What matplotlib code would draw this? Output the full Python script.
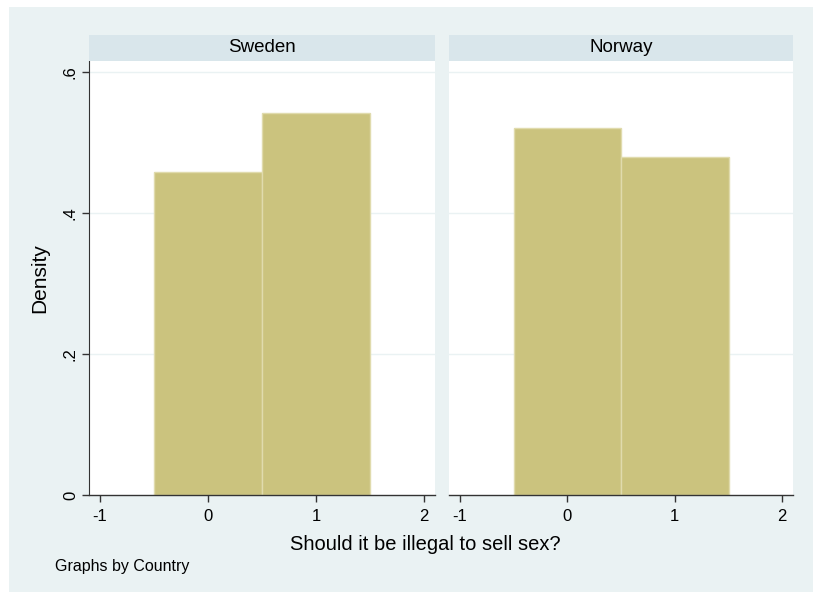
import numpy as np
import matplotlib
matplotlib.use("Agg")
import matplotlib.pyplot as plt
from matplotlib.patches import Rectangle

plt.rcParams["font.family"] = ["Liberation Sans", "DejaVu Sans"]

# ---- data ----
countries = ["Sweden", "Norway"]
bin_left = [-0.5, 0.5]
bin_width = 1.0
density = {
    "Sweden": [0.458, 0.542],
    "Norway": [0.521, 0.479],
}
x_ticks = [-1, 0, 1, 2]
y_ticks = [0, 0.2, 0.4, 0.6]
y_labels = ["0", ".2", ".4", ".6"]

BG = "#eaf2f3"
STRIP = "#d9e6eb"
BAR = "#cbc37e"
BAR_EDGE = "#e0dbad"
W, H = 813, 592

fig = plt.figure(figsize=(W / 100, H / 100), dpi=100)
fig.patch.set_facecolor("white")
# graph region background (a thin white margin stays at top/left)
fig.patches.append(Rectangle((9 / W, 0), 1 - 9 / W, 1 - 7 / H,
                             transform=fig.transFigure, facecolor=BG,
                             edgecolor="none", zorder=-10))

panels = [(89, 435), (449, 793)]
y_top, y_bot, strip_top = 61, 495, 35

for i, (name, (x0, x1)) in enumerate(zip(countries, panels)):
    ax = fig.add_axes([x0 / W, 1 - y_bot / H, (x1 - x0) / W, (y_bot - y_top) / H])
    ax.set_facecolor("white")
    ax.bar(bin_left, density[name], width=bin_width, align="edge",
           color=BAR, edgecolor=BAR_EDGE, linewidth=1.0, zorder=2)
    ax.set_xlim(-1.1, 2.1)
    ax.set_ylim(0, 0.6156)
    ax.set_yticks(y_ticks)
    ax.set_xticks(x_ticks)
    ax.set_xticklabels([str(t) for t in x_ticks], fontsize=12)
    for yv in y_ticks[1:]:
        ax.axhline(yv, color=BG, lw=1.0, zorder=1)
    for s in ["top", "right"]:
        ax.spines[s].set_visible(False)
    ax.spines["bottom"].set_color("#333333")
    ax.spines["bottom"].set_linewidth(1.0)
    ax.tick_params(axis="x", length=5, width=1, color="#333333", pad=5)
    if i == 0:
        ax.spines["left"].set_color("#333333")
        ax.set_yticklabels(y_labels, fontsize=12, rotation=90, va="center")
        ax.tick_params(axis="y", length=5, width=1, color="#333333", pad=3)
        ax.set_ylabel("Density", fontsize=15, labelpad=10)
    else:
        ax.spines["left"].set_visible(False)
        ax.tick_params(axis="y", left=False, labelleft=False)

    # strip title
    sax = fig.add_axes([x0 / W, 1 - y_top / H, (x1 - x0) / W, (y_top - strip_top) / H])
    sax.set_facecolor(STRIP)
    sax.set_xticks([]); sax.set_yticks([])
    for s in sax.spines.values():
        s.set_visible(False)
    sax.text(0.5, 0.5, name, ha="center", va="center", fontsize=13.5,
             transform=sax.transAxes)

fig.text(425 / W, 1 - 544 / H, "Should it be illegal to sell sex?",
         ha="center", va="center", fontsize=14.5)
fig.text(55 / W, 1 - 567 / H, "Graphs by Country", ha="left", va="center",
         fontsize=11.5)

fig.savefig("out.png", dpi=100, facecolor=fig.get_facecolor())
